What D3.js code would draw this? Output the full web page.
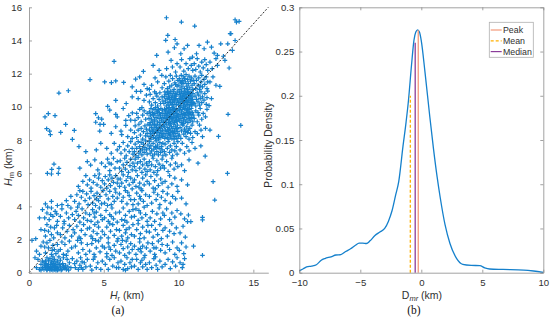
<!DOCTYPE html>
<html>
<head>
<meta charset="utf-8">
<script src="https://cdn.jsdelivr.net/npm/d3@7"></script>
<style>
  body { margin: 0; background: #fff; }
  svg { display: block; font-family: "Liberation Sans", Arial, sans-serif; }
</style>
</head>
<body>
<svg id="chart" width="550" height="322"></svg>
<script>
// ---- data: (a) Hr vs Hm scatter (y in km)
var band0 = [[0.5,0.3],[0.7,0.2],[0.8,0.5],[0.9,0.3],[0.6,0.8],[0.9,0.7],[0.4,0.9],[0.8,0.15],
  [1.0,0.2],[1.1,0.3],[1.2,0.2],[1.3,0.4],[1.4,0.3],[1.5,0.2],[1.6,0.3],[1.7,0.2],[1.8,0.4],[1.9,0.3],[1.05,0.45],[1.15,0.55],[1.25,0.35],[1.35,0.25],[1.45,0.5],[1.55,0.4],[1.65,0.55],[1.75,0.35],[1.85,0.25],[1.95,0.5],[1.1,0.7],[1.3,0.75],[1.5,0.65],[1.7,0.8],[1.9,0.7],[1.2,0.9],[1.6,0.95],[1.4,0.85],[1.0,0.6],[1.8,0.6],[1.2,0.15],[1.4,0.15],[1.6,0.15],[1.8,0.15],[1.3,0.5],[1.5,0.3],[1.7,0.45],[1.1,0.4],[1.9,0.15],[1.6,0.7],
  [2.0,0.2],[2.1,0.35],[2.2,0.2],[2.3,0.4],[2.4,0.25],[2.05,0.5],[2.15,0.15],[2.25,0.55],[2.35,0.3],[2.5,0.2],[2.6,0.35],[2.45,0.45],[2.1,0.75],[2.3,0.9],[2.7,0.6],[2.8,0.3],[2.55,0.8],[2.9,0.85],[2.0,0.95],[2.65,0.15],
  [3.1,0.3],[3.3,0.2],[3.4,0.45],[3.5,0.3],[3.6,0.2],[3.2,0.7],[3.7,0.6],[3.8,0.35],[3.45,0.9],[3.9,0.8],[3.05,0.55],[3.55,0.65],
  [4.1,0.4],[4.3,0.8],[4.5,0.3],[4.6,0.6],[4.8,0.2],[4.4,0.95],[4.9,0.7],[4.2,0.15],
  [5.1,0.5],[5.3,0.2],[5.4,0.8],[5.6,0.4],[5.7,0.9],[5.85,0.3],[5.2,0.95],[5.95,0.6],
  [6.0,0.3],[6.15,0.7],[6.3,0.2],[6.4,0.5],[6.55,0.9],[6.6,0.25],[6.75,0.6],[6.85,0.35],[6.9,0.8],[6.45,0.15],
  [7.05,0.4],[7.2,0.8],[7.3,0.2],[7.45,0.6],[7.6,0.35],[7.7,0.9],[7.8,0.5],[7.9,0.2],[7.55,0.75],
  [8.05,0.6],[8.2,0.3],[8.35,0.85],[8.5,0.45],[8.6,0.2],[8.75,0.7],[8.9,0.35],[8.45,0.95],
  [9.1,0.5],[9.3,0.8],[9.45,0.25],[9.6,0.65],[9.8,0.4],[9.9,0.9],
  [10.1,0.6],[10.25,0.3],[10.4,0.85],[10.3,0.5]];

var band1 = [[0.5,1.3],[0.8,1.6],[0.7,1.1],[0.95,1.85],
  [1.1,1.2],[1.3,1.5],[1.5,1.1],[1.7,1.4],[1.9,1.7],[1.2,1.8],[1.4,1.95],[1.6,1.65],[1.8,1.15],[1.05,1.55],[1.55,1.35],[1.95,1.3],
  [2.1,1.4],[2.3,1.1],[2.4,1.7],[2.6,1.3],[2.7,1.9],[2.85,1.5],[2.2,1.85],[2.5,1.05],
  [3.1,1.6],[3.3,1.2],[3.5,1.8],[3.6,1.4],[3.8,1.1],[3.9,1.7],[3.25,1.95],
  [4.05,1.3],[4.2,1.75],[4.35,1.1],[4.5,1.5],[4.65,1.9],[4.75,1.25],[4.9,1.6],[4.45,1.95],
  [5.05,1.5],[5.2,1.15],[5.3,1.8],[5.45,1.4],[5.55,1.05],[5.7,1.65],[5.8,1.3],[5.9,1.9],[5.35,1.55],
  [6.05,1.2],[6.15,1.7],[6.3,1.45],[6.4,1.05],[6.5,1.9],[6.6,1.55],[6.7,1.2],[6.8,1.75],[6.9,1.4],[6.25,1.95],
  [7.05,1.6],[7.15,1.1],[7.3,1.4],[7.4,1.85],[7.5,1.25],[7.6,1.6],[7.75,1.05],[7.85,1.5],[7.95,1.8],[7.45,1.45],
  [8.1,1.3],[8.25,1.75],[8.4,1.1],[8.5,1.5],[8.65,1.9],[8.8,1.35],[8.9,1.7],[8.35,1.5],
  [9.1,1.2],[9.25,1.65],[9.4,1.4],[9.6,1.85],[9.75,1.1],[9.9,1.5],
  [10.05,1.35],[10.2,1.8],[10.35,1.15],[10.5,1.55],[11.0,1.6],[11.6,1.05]];

var band2 = [[0.2,1.95],[0.45,2.05],[0.8,2.6],
  [1.1,2.2],[1.3,2.5],[1.5,2.3],[1.7,2.7],[1.9,2.4],[1.2,2.9],[1.45,2.75],[1.65,2.1],[1.85,2.85],[1.05,2.55],
  [2.1,2.3],[2.25,2.7],[2.4,2.1],[2.55,2.5],[2.7,2.85],[2.85,2.2],[2.35,2.95],[2.95,2.6],
  [3.05,2.4],[3.2,2.8],[3.35,2.15],[3.5,2.55],[3.65,2.9],[3.75,2.3],[3.9,2.65],[3.45,2.05],
  [4.05,2.7],[4.15,2.2],[4.3,2.5],[4.4,2.9],[4.55,2.35],[4.65,2.75],[4.8,2.1],[4.9,2.5],[4.25,2.05],
  [5.05,2.3],[5.2,2.75],[5.3,2.1],[5.45,2.5],[5.6,2.9],[5.7,2.25],[5.85,2.6],[5.95,2.05],[5.4,2.95],
  [6.05,2.55],[6.2,2.2],[6.3,2.85],[6.45,2.4],[6.6,2.1],[6.7,2.7],[6.85,2.3],[6.95,2.9],[6.5,2.6],
  [7.05,2.2],[7.2,2.6],[7.3,2.95],[7.45,2.35],[7.6,2.75],[7.7,2.1],[7.85,2.5],[7.95,2.85],[7.4,2.05],
  [8.05,2.45],[8.2,2.85],[8.3,2.15],[8.45,2.6],[8.6,2.3],[8.75,2.9],[8.85,2.05],[8.95,2.55],
  [9.1,2.7],[9.25,2.2],[9.4,2.5],[9.55,2.95],[9.7,2.35],[9.85,2.7],
  [10.1,2.4],[10.3,2.8],[10.45,2.15]];

var band3 = [[0.7,3.3],[0.9,3.8],
  [1.05,3.3],[1.2,3.6],[1.35,3.2],[1.5,3.9],[1.6,3.4],[1.75,3.7],[1.9,3.1],[1.25,3.95],[1.45,3.5],[1.85,3.55],
  [2.1,3.4],[2.2,3.85],[2.35,3.1],[2.5,3.6],[2.65,3.3],[2.8,3.9],[2.9,3.5],
  [3.05,3.2],[3.15,3.7],[3.3,3.45],[3.4,3.05],[3.55,3.85],[3.65,3.3],[3.8,3.6],[3.9,3.15],[3.25,3.95],
  [4.05,3.5],[4.15,3.1],[4.25,3.8],[4.4,3.35],[4.5,3.65],[4.6,3.05],[4.7,3.9],[4.8,3.45],[4.9,3.2],[4.35,3.6],
  [5.05,3.3],[5.15,3.75],[5.3,3.1],[5.4,3.5],[5.55,3.9],[5.65,3.25],[5.8,3.6],[5.9,3.05],[5.5,3.4],
  [6.05,3.65],[6.2,3.2],[6.3,3.9],[6.45,3.45],[6.55,3.05],[6.7,3.7],[6.85,3.35],[6.95,3.8],[6.4,3.15],
  [7.05,3.4],[7.15,3.85],[7.3,3.15],[7.45,3.6],[7.55,3.3],[7.7,3.95],[7.8,3.5],[7.9,3.1],[7.35,3.75],
  [8.1,3.3],[8.25,3.7],[8.4,3.1],[8.55,3.55],[8.7,3.9],[8.8,3.25],[8.95,3.6],
  [9.05,3.45],[9.2,3.85],[9.4,3.2],[9.55,3.6],[9.75,3.35],[9.9,3.75],
  [10.15,3.55],[10.4,3.25],[10.66,3.48],[10.6,3.08],[10.82,3.08],[11.6,3.34],[11.6,3.18]];

var band4 = [[1.1,4.15],[1.5,4.3],[1.9,4.05],
  [2.2,4.1],[2.5,4.35],[2.8,4.6],[2.6,4.05],
  [3.05,4.3],[3.2,4.7],[3.35,4.15],[3.5,4.55],[3.6,4.9],[3.75,4.35],[3.85,4.75],[3.95,4.1],[3.4,4.95],
  [4.05,4.5],[4.15,4.9],[4.25,4.2],[4.35,4.65],[4.45,4.05],[4.55,4.8],[4.65,4.35],[4.75,4.6],[4.85,4.15],[4.95,4.95],[4.5,4.45],
  [5.05,4.2],[5.15,4.7],[5.3,4.45],[5.4,4.9],[5.5,4.1],[5.6,4.6],[5.7,4.3],[5.8,4.85],[5.9,4.5],[5.25,4.05],
  [6.05,4.75],[6.2,4.3],[6.3,4.55],[6.45,4.95],[6.55,4.15],[6.7,4.65],[6.8,4.4],[6.95,4.1],[6.6,4.85],
  [7.05,4.4],[7.2,4.8],[7.3,4.15],[7.4,4.6],[7.55,4.95],[7.65,4.3],[7.8,4.7],[7.9,4.05],[7.45,4.45],
  [8.05,4.6],[8.2,4.2],[8.35,4.85],[8.5,4.4],[8.6,4.7],[8.75,4.1],[8.85,4.55],[8.95,4.9],
  [9.1,4.35],[9.25,4.75],[9.45,4.2],[9.6,4.6],[9.8,4.45],[9.95,4.9],
  [10.2,4.5],[10.5,4.15],[12.42,4.38]];

var band5 = [[1.23,5.99],[1.5,5.95],[1.96,5.99],
  [3.3,5.2],[3.6,5.5],[3.8,5.85],[3.9,5.3],
  [4.05,5.6],[4.15,5.1],[4.3,5.45],[4.4,5.85],[4.55,5.3],[4.65,5.7],[4.8,5.15],[4.9,5.55],[4.7,5.95],
  [5.05,5.35],[5.1,5.8],[5.2,5.1],[5.3,5.6],[5.4,5.9],[5.45,5.25],[5.55,5.7],[5.65,5.45],[5.75,5.05],[5.8,5.85],[5.9,5.4],[5.95,5.65],
  [6.05,5.2],[6.1,5.65],[6.2,5.4],[6.3,5.9],[6.4,5.15],[6.5,5.55],[6.6,5.8],[6.7,5.3],[6.8,5.7],[6.9,5.05],[6.95,5.45],
  [7.05,5.6],[7.15,5.2],[7.25,5.85],[7.4,5.4],[7.5,5.05],[7.6,5.7],[7.7,5.3],[7.8,5.9],[7.9,5.5],[7.35,5.15],
  [8.05,5.35],[8.15,5.8],[8.3,5.1],[8.4,5.55],[8.55,5.9],[8.65,5.25],[8.8,5.65],[8.9,5.4],[8.45,5.05],
  [9.1,5.5],[9.3,5.15],[9.4,5.85],[9.55,5.35],[9.75,5.7],[9.9,5.2],
  [10.2,5.6],[10.6,5.3],[12.31,5.49],[13.27,5.99]];

var band6 = [[1.67,6.55],[1.52,6.23],[2.0,6.29],[3.4,6.3],[3.9,6.7],
  [4.12,6.49],[4.4,6.8],[4.6,6.2],[4.85,6.6],
  [5.1,6.4],[5.25,6.85],[5.4,6.15],[5.5,6.55],[5.65,6.9],[5.75,6.3],[5.9,6.7],[5.35,6.6],
  [6.05,6.3],[6.1,6.75],[6.2,6.1],[6.3,6.5],[6.4,6.9],[6.45,6.25],[6.55,6.65],[6.65,6.05],[6.75,6.45],[6.8,6.85],[6.9,6.2],[6.95,6.6],
  [7.05,6.4],[7.1,6.85],[7.15,6.15],[7.25,6.6],[7.3,6.95],[7.4,6.3],[7.45,6.7],[7.55,6.05],[7.6,6.5],[7.7,6.85],[7.75,6.25],[7.85,6.6],[7.9,6.1],[7.95,6.45],
  [8.05,6.7],[8.1,6.2],[8.2,6.5],[8.3,6.9],[8.35,6.05],[8.45,6.4],[8.55,6.75],[8.6,6.15],[8.7,6.55],[8.8,6.3],[8.9,6.85],[8.95,6.45],
  [9.05,6.3],[9.2,6.7],[9.3,6.1],[9.45,6.5],[9.55,6.9],[9.7,6.25],[9.8,6.6],[9.95,6.4],
  [10.2,6.5],[10.4,6.15],[10.7,6.8],[11.3,6.6]];

var band7 = [[3.34,7.6],[3.8,7.3],[4.5,7.4],[4.8,7.8],
  [5.2,7.5],[5.5,7.2],[5.7,7.8],[5.9,7.4],
  [6.05,7.6],[6.15,7.2],[6.3,7.85],[6.4,7.4],[6.5,7.05],[6.6,7.65],[6.7,7.3],[6.8,7.9],[6.9,7.5],[6.95,7.15],
  [7.05,7.3],[7.1,7.75],[7.15,7.05],[7.2,7.5],[7.3,7.9],[7.35,7.2],[7.4,7.6],[7.45,7.35],[7.5,7.85],[7.55,7.1],[7.6,7.45],[7.65,7.75],[7.7,7.25],[7.75,7.55],[7.8,7.95],[7.85,7.4],[7.9,7.15],[7.95,7.7],
  [8.05,7.5],[8.05,7.9],[8.1,7.2],[8.15,7.65],[8.2,7.35],[8.25,7.05],[8.3,7.8],[8.35,7.45],[8.4,7.15],[8.45,7.6],[8.5,7.95],[8.55,7.3],[8.6,7.7],[8.65,7.1],[8.7,7.5],[8.75,7.85],[8.8,7.25],[8.85,7.6],[8.9,7.4],[8.95,7.05],[8.95,7.8],[8.5,7.55],
  [9.05,7.3],[9.1,7.75],[9.15,7.1],[9.25,7.5],[9.3,7.9],[9.4,7.25],[9.45,7.65],[9.55,7.4],[9.6,7.05],[9.7,7.8],[9.75,7.35],[9.85,7.6],[9.9,7.15],[9.95,7.9],
  [10.1,7.4],[10.25,7.8],[10.4,7.2],[10.55,7.6],[10.7,7.35],[10.9,7.85],
  [11.1,7.5],[11.49,7.64],[11.78,7.03]];

var band8 = [[1.18,8.68],[1.38,8.54],[1.43,8.32],[2.12,8.46],[2.9,8.04],[2.45,8.94],[3.03,8.58],
  [4.73,8.54],[4.75,8.94],[4.99,8.94],[5.5,8.4],[5.8,8.8],
  [6.2,8.32],[6.15,8.54],[6.47,8.88],[6.6,8.2],[6.8,8.6],[6.9,8.1],
  [7.05,8.45],[7.1,8.85],[7.2,8.15],[7.3,8.6],[7.35,8.95],[7.45,8.3],[7.5,8.7],[7.6,8.05],[7.65,8.5],[7.75,8.85],[7.8,8.25],[7.85,8.65],[7.9,8.4],[7.95,8.95],
  [8.02,8.2],[8.05,8.6],[8.08,8.9],[8.12,8.4],[8.15,8.05],[8.18,8.75],[8.22,8.3],[8.25,8.55],[8.28,8.95],[8.32,8.15],[8.35,8.65],[8.38,8.4],[8.42,8.85],[8.45,8.1],[8.48,8.5],[8.52,8.75],[8.55,8.25],[8.58,8.95],[8.62,8.45],[8.65,8.05],[8.68,8.7],[8.72,8.3],[8.75,8.9],[8.78,8.55],[8.82,8.15],[8.85,8.8],[8.88,8.4],[8.92,8.6],[8.95,8.2],[8.98,8.85],[8.3,8.5],[8.6,8.6],[8.9,8.3],[8.4,8.95],[8.7,8.15],
  [9.02,8.4],[9.05,8.8],[9.08,8.1],[9.12,8.6],[9.15,8.3],[9.18,8.95],[9.22,8.5],[9.25,8.15],[9.28,8.75],[9.32,8.4],[9.35,8.05],[9.38,8.65],[9.42,8.9],[9.45,8.25],[9.48,8.55],[9.52,8.8],[9.55,8.1],[9.58,8.45],[9.62,8.7],[9.65,8.3],[9.68,8.95],[9.72,8.55],[9.75,8.2],[9.78,8.8],[9.82,8.4],[9.85,8.65],[9.88,8.1],[9.92,8.9],[9.95,8.5],[9.98,8.25],[9.3,8.6],[9.6,8.5],[9.9,8.7],[9.4,8.35],[9.7,8.05],
  [10.05,8.3],[10.1,8.75],[10.15,8.1],[10.2,8.55],[10.3,8.9],[10.35,8.35],[10.4,8.65],[10.5,8.2],[10.55,8.8],[10.6,8.45],[10.7,8.05],[10.75,8.7],[10.8,8.4],[10.9,8.9],[10.95,8.15],[10.45,8.5],[10.25,8.95],[10.65,8.6],
  [11.1,8.5],[11.26,8.38],[11.4,8.9],[11.6,8.2],[11.8,8.7],[11.5,8.6],[12.1,8.6],[12.67,8.22],[14.16,8.88]];

var band9 = [[1.07,9.39],[1.29,9.59],[1.74,9.47],[4.64,9.34],[4.46,9.59],[4.86,9.26],[4.46,9.07],
  [5.8,9.55],[5.9,9.4],[5.4,9.8],[6.67,9.47],[6.47,9.18],[6.91,9.63],[6.3,9.9],[6.8,9.2],
  [7.09,9.18],[7.2,9.6],[7.3,9.35],[7.4,9.85],[7.5,9.1],[7.6,9.5],[7.7,9.75],[7.8,9.25],[7.9,9.6],[7.55,9.95],
  [8.02,9.3],[8.05,9.7],[8.1,9.05],[8.12,9.5],[8.15,9.9],[8.2,9.25],[8.25,9.65],[8.28,9.1],[8.32,9.45],[8.35,9.85],[8.4,9.2],[8.42,9.6],[8.45,9.95],[8.5,9.35],[8.55,9.75],[8.58,9.1],[8.62,9.5],[8.65,9.85],[8.7,9.3],[8.72,9.65],[8.75,9.05],[8.8,9.45],[8.82,9.9],[8.85,9.2],[8.9,9.6],[8.92,9.8],[8.95,9.35],[8.98,9.05],[8.6,9.7],[8.3,9.55],
  [9.02,9.1],[9.04,9.5],[9.06,9.85],[9.1,9.3],[9.12,9.7],[9.15,9.05],[9.18,9.45],[9.2,9.9],[9.22,9.2],[9.25,9.6],[9.28,9.35],[9.3,9.8],[9.33,9.05],[9.36,9.5],[9.38,9.95],[9.4,9.25],[9.43,9.65],[9.46,9.4],[9.48,9.85],[9.5,9.1],[9.53,9.55],[9.56,9.75],[9.58,9.3],[9.6,9.95],[9.63,9.15],[9.66,9.6],[9.68,9.4],[9.7,9.8],[9.73,9.05],[9.76,9.5],[9.78,9.25],[9.8,9.7],[9.83,9.9],[9.86,9.35],[9.88,9.6],[9.9,9.1],[9.93,9.45],[9.96,9.8],[9.98,9.25],[9.45,9.0],[9.15,9.6],[9.65,9.85],[9.85,9.15],[9.35,9.7],[9.55,9.35],
  [10.02,9.4],[10.05,9.8],[10.08,9.15],[10.1,9.55],[10.13,9.95],[10.16,9.3],[10.2,9.7],[10.22,9.05],[10.25,9.45],[10.28,9.85],[10.32,9.2],[10.35,9.6],[10.38,9.35],[10.42,9.9],[10.45,9.1],[10.48,9.5],[10.52,9.75],[10.55,9.25],[10.58,9.65],[10.62,9.05],[10.65,9.45],[10.68,9.85],[10.72,9.3],[10.75,9.7],[10.78,9.15],[10.82,9.55],[10.85,9.9],[10.88,9.35],[10.92,9.65],[10.95,9.1],[10.98,9.5],[10.4,9.55],[10.6,9.85],[10.3,9.0],[10.7,9.6],
  [11.05,9.3],[11.15,9.75],[11.25,9.1],[11.35,9.5],[11.45,9.9],[11.55,9.25],[11.65,9.6],[11.8,9.4],[11.9,9.85],[11.3,9.65],[13.31,9.55]];

var band10 = [[2.0,10.83],[2.63,10.97],[5.26,10.03],[5.8,10.39],[6.5,10.2],[6.9,10.6],
  [7.18,10.93],[7.47,10.93],[7.69,10.39],[7.3,10.5],[7.85,10.7],
  [8.05,10.3],[8.1,10.75],[8.2,10.1],[8.3,10.5],[8.4,10.9],[8.45,10.25],[8.55,10.65],[8.6,10.05],[8.7,10.45],[8.75,10.85],[8.8,10.2],[8.9,10.6],[8.95,10.35],[8.5,10.8],
  [9.02,10.2],[9.05,10.6],[9.08,10.9],[9.12,10.35],[9.15,10.75],[9.18,10.05],[9.22,10.5],[9.25,10.85],[9.28,10.25],[9.32,10.65],[9.35,10.1],[9.38,10.45],[9.42,10.8],[9.45,10.3],[9.48,10.95],[9.52,10.55],[9.55,10.15],[9.58,10.7],[9.62,10.4],[9.65,10.9],[9.68,10.05],[9.72,10.6],[9.75,10.3],[9.78,10.8],[9.82,10.5],[9.85,10.15],[9.88,10.75],[9.92,10.4],[9.95,10.95],[9.98,10.25],[9.4,10.55],[9.6,10.25],[9.8,10.65],[9.3,10.9],[9.7,10.45],
  [10.02,10.1],[10.04,10.5],[10.06,10.85],[10.1,10.3],[10.12,10.7],[10.15,10.05],[10.18,10.45],[10.2,10.9],[10.23,10.2],[10.26,10.6],[10.28,10.35],[10.3,10.8],[10.33,10.05],[10.36,10.5],[10.38,10.95],[10.4,10.25],[10.43,10.65],[10.46,10.4],[10.48,10.85],[10.5,10.1],[10.53,10.55],[10.56,10.75],[10.58,10.3],[10.6,10.95],[10.63,10.15],[10.66,10.6],[10.68,10.4],[10.7,10.8],[10.73,10.05],[10.76,10.5],[10.78,10.25],[10.8,10.7],[10.83,10.9],[10.86,10.35],[10.88,10.6],[10.9,10.1],[10.93,10.45],[10.96,10.8],[10.98,10.25],[10.45,10.0],[10.15,10.6],[10.65,10.85],[10.85,10.15],[10.35,10.7],[10.55,10.35],
  [11.05,10.2],[11.1,10.65],[11.15,10.05],[11.2,10.45],[11.25,10.85],[11.3,10.3],[11.35,10.7],[11.4,10.1],[11.45,10.5],[11.5,10.9],[11.55,10.25],[11.6,10.6],[11.7,10.4],[11.75,10.8],[11.85,10.15],[11.9,10.55],[11.95,10.95],[12.04,10.07],[12.2,10.5]];

var band11 = [[4.08,11.64],[5.06,11.5],[5.51,11.46],[5.8,11.56],[6.33,11.47],[6.9,11.2],
  [7.13,11.67],[7.69,11.35],[7.4,11.8],[7.9,11.1],
  [8.43,11.74],[8.88,11.9],[8.2,11.3],[8.6,11.5],[8.9,11.15],[8.05,11.05],
  [9.05,11.4],[9.15,11.8],[9.25,11.1],[9.35,11.55],[9.45,11.9],[9.55,11.3],[9.6,11.7],[9.7,11.05],[9.75,11.45],[9.85,11.85],[9.9,11.25],[9.95,11.6],[9.4,11.2],[9.8,11.35],
  [10.02,11.3],[10.05,11.7],[10.1,11.05],[10.12,11.5],[10.18,11.9],[10.22,11.2],[10.25,11.6],[10.3,11.4],[10.35,11.8],[10.4,11.1],[10.45,11.5],[10.5,11.95],[10.55,11.25],[10.6,11.65],[10.65,11.4],[10.7,11.85],[10.75,11.15],[10.8,11.55],[10.85,11.75],[10.9,11.3],[10.95,11.05],[10.98,11.6],[10.4,11.7],[10.6,11.05],[10.2,11.45],
  [11.05,11.4],[11.1,11.85],[11.15,11.1],[11.2,11.6],[11.3,11.3],[11.35,11.75],[11.4,11.05],[11.5,11.5],[11.55,11.9],[11.6,11.2],[11.7,11.65],[11.75,11.35],[11.85,11.8],[11.9,11.1],[11.95,11.5],[11.45,11.25],
  [12.1,11.5],[12.3,11.8],[12.5,11.3],[12.76,11.23]];

var bandTop = [[5.69,12.74],[7.65,12.14],[8.3,12.5],[8.7,12.2],
  [9.2,12.3],[9.59,12.4],[9.5,12.8],[9.8,12.1],[9.9,12.6],
  [10.1,12.4],[10.2,12.85],[10.35,12.15],[10.5,12.6],[10.65,12.3],[10.75,12.9],[10.85,12.5],[10.95,12.2],
  [11.05,12.6],[11.15,12.25],[11.25,12.9],[11.35,12.45],[11.45,12.1],[11.55,12.7],[11.65,12.35],[11.75,12.85],[11.85,12.55],[11.95,12.2],
  [12.1,12.7],[12.25,12.3],[12.5,12.9],[12.6,12.5],[13.38,12.34],[13.1,12.8],
  [8.54,13.1],[9.72,13.56],[9.3,13.3],[9.9,13.8],[10.15,13.2],[10.37,13.5],[10.93,13.0],[10.6,13.7],
  [11.37,13.7],[11.71,13.5],[11.93,13.9],[11.2,13.2],[12.38,13.24],[12.82,13.8],[12.2,13.6],[12.6,13.1],
  [13.29,13.8],[13.6,13.4],[13.0,13.05],
  [9.14,14.01],[9.28,14.31],[9.77,14.06],[11.08,14.87],[13.45,14.41],[13.5,14.41],[13.78,14.0],
  [9.19,15.37],[10.19,15.11],[13.78,15.25],[13.87,15.1],[14.05,15.15]];

// ---- data: (b) probability density of Dmr
var dmrX = [-10,-9.67,-9.4,-9.0,-8.6,-8.2,-7.9,-7.4,-7.0,-6.6,-6.2,-5.8,-5.4,-5.1,-4.8,-4.5,-4.2,-3.8,-3.4,-3.0,-2.7,-2.4,-2.1,-1.85,-1.5,-1.25,-1.05,-0.8,-0.6,-0.45,-0.3,-0.15,0.0,0.3,0.7,1.0,1.3,1.55,1.95,2.35,2.9,3.4,4.1,4.8,5.2,5.6,6.7,8.4,9.2,10];
var dmrPdf = [0.002,0.0045,0.0065,0.0075,0.009,0.014,0.016,0.018,0.02,0.0205,0.024,0.027,0.031,0.0335,0.0335,0.033,0.036,0.042,0.046,0.05,0.058,0.07,0.088,0.103,0.143,0.17,0.195,0.235,0.263,0.272,0.2745,0.272,0.262,0.227,0.176,0.14,0.108,0.085,0.054,0.033,0.016,0.0095,0.0083,0.008,0.0055,0.0042,0.0037,0.003,0.0019,0.0003];

var statNames = ["Peak", "Mean", "Median"];
var statX = [-0.25, -0.9, -0.5];
var statTop = [0.274, 0.2, 0.26];

var ticksA_x = [0, 5, 10, 15];
var ticksA_y = [0, 2, 4, 6, 8, 10, 12, 14, 16];
var ticksB_x = [-10, -5, 0, 5, 10];
var ticksB_y = [0, 0.05, 0.1, 0.15, 0.2, 0.25, 0.3];

// ---- styles
var blue = "#1580cc";
var statColor = ["#f4997a", "#ffb000", "#8b3d9a"];
var statDash = [null, "3,2", null];
var axisGray = "#8a8a8a";
var textCol = "#303030";

var svg = d3.select("#chart");

var xa = d3.scaleLinear().domain([0, 16]).range([29, 268.3]);
var ya = d3.scaleLinear().domain([0, 16]).range([272.7, 7.3]);
var xb = d3.scaleLinear().domain([-10, 10]).range([299.3, 543.3]);
var yb = d3.scaleLinear().domain([0, 0.3]).range([272.7, 7.3]);

function styleAxis(g) {
  g.select(".domain").attr("stroke", axisGray).attr("stroke-width", 0.8);
  g.selectAll(".tick line").attr("stroke", axisGray).attr("stroke-width", 0.8);
  g.selectAll(".tick text").attr("fill", textCol).attr("font-size", 9.6);
  g.attr("font-family", null);
}

// ===== panel (a)
var pts = [].concat(band0, band1, band2, band3, band4, band5, band6, band7, band8, band9, band10, band11, bandTop);

svg.append("g")
  .selectAll("path")
  .data(pts)
  .enter().append("path")
  .attr("transform", function(d) { return "translate(" + xa(d[0]) + "," + ya(d[1]) + ")"; })
  .attr("d", "M-2.3,0H2.3M0,-2.3V2.3")
  .attr("stroke", blue)
  .attr("stroke-width", 1.2)
  .attr("fill", "none");

svg.append("line")
  .attr("x1", xa(0)).attr("y1", ya(0))
  .attr("x2", xa(16)).attr("y2", ya(16))
  .attr("stroke", "#111").attr("stroke-width", 0.9)
  .attr("stroke-dasharray", "2,1.6");

svg.append("g")
  .attr("transform", "translate(0," + ya(0) + ")")
  .call(d3.axisBottom(xa).tickValues(ticksA_x).tickSizeInner(-3).tickSizeOuter(0).tickPadding(6))
  .call(styleAxis);

svg.append("g")
  .attr("transform", "translate(" + xa(0) + ",0)")
  .call(d3.axisLeft(ya).tickValues(ticksA_y).tickSizeInner(-3).tickSizeOuter(0).tickPadding(7))
  .call(styleAxis);

var ylabA = svg.append("text")
  .attr("transform", "translate(12,167) rotate(-90)")
  .attr("text-anchor", "middle")
  .attr("font-size", 10.5).attr("fill", textCol);
ylabA.append("tspan").attr("font-style", "italic").text("H");
ylabA.append("tspan").attr("font-size", 7.5).attr("dy", 1.5).text("m");
ylabA.append("tspan").attr("dy", -1.5).text(" (km)");

var xlabA = svg.append("text")
  .attr("x", 127).attr("y", 299)
  .attr("text-anchor", "middle")
  .attr("font-size", 10.5).attr("fill", textCol);
xlabA.append("tspan").attr("font-style", "italic").text("H");
xlabA.append("tspan").attr("font-size", 7.5).attr("dy", 1.5).text("r");
xlabA.append("tspan").attr("dy", -1.5).text(" (km)");

svg.append("text")
  .attr("x", 118).attr("y", 314)
  .attr("text-anchor", "middle")
  .attr("font-family", "'Liberation Serif', 'DejaVu Serif', serif")
  .attr("font-size", 11.5).attr("fill", "#111")
  .text("(a)");

// ===== panel (b)
var line = d3.line()
  .x(function(d, i) { return xb(dmrX[i]); })
  .y(function(d) { return yb(d); })
  .curve(d3.curveMonotoneX);

svg.append("path")
  .attr("d", line(dmrPdf))
  .attr("fill", "none")
  .attr("stroke", blue)
  .attr("stroke-width", 1.3);

svg.append("g")
  .selectAll("line")
  .data(statNames)
  .enter().append("line")
  .attr("x1", function(d, i) { return xb(statX[i]); })
  .attr("x2", function(d, i) { return xb(statX[i]); })
  .attr("y1", yb(0))
  .attr("y2", function(d, i) { return yb(statTop[i]); })
  .attr("stroke", function(d, i) { return statColor[i]; })
  .attr("stroke-dasharray", function(d, i) { return statDash[i]; })
  .attr("stroke-width", 1.3);

svg.append("g")
  .attr("transform", "translate(0," + yb(0) + ")")
  .call(d3.axisBottom(xb).tickValues(ticksB_x).tickSizeInner(-3).tickSizeOuter(0).tickPadding(6))
  .call(styleAxis);

svg.append("g")
  .attr("transform", "translate(" + xb(-10) + ",0)")
  .call(d3.axisLeft(yb).tickValues(ticksB_y).tickFormat(d3.format("")).tickSizeInner(-3).tickSizeOuter(0).tickPadding(5))
  .call(styleAxis);

// top and right edges of the box with inward ticks
svg.append("g")
  .attr("transform", "translate(0," + yb(0.3) + ")")
  .call(d3.axisTop(xb).tickValues(ticksB_x).tickSizeInner(-3).tickSizeOuter(0).tickFormat(""))
  .call(styleAxis);

svg.append("g")
  .attr("transform", "translate(" + xb(10) + ",0)")
  .call(d3.axisRight(yb).tickValues(ticksB_y).tickSizeInner(-3).tickSizeOuter(0).tickFormat(""))
  .call(styleAxis);

svg.append("text")
  .attr("transform", "translate(272,145) rotate(-90)")
  .attr("text-anchor", "middle")
  .attr("font-size", 10.3).attr("fill", textCol)
  .text("Probability Density");

var xlabB = svg.append("text")
  .attr("x", 422).attr("y", 299)
  .attr("text-anchor", "middle")
  .attr("font-size", 10.5).attr("fill", textCol);
xlabB.append("tspan").text("D");
xlabB.append("tspan").attr("font-style", "italic").attr("font-size", 7.5).attr("dy", 1.5).text("mr");
xlabB.append("tspan").attr("dy", -1.5).text(" (km)");

svg.append("text")
  .attr("x", 414).attr("y", 314)
  .attr("text-anchor", "middle")
  .attr("font-family", "'Liberation Serif', 'DejaVu Serif', serif")
  .attr("font-size", 11.5).attr("fill", "#111")
  .text("(b)");

// legend
var lg = svg.append("g");
lg.append("rect")
  .attr("x", 489.3).attr("y", 22.3)
  .attr("width", 44).attr("height", 35)
  .attr("fill", "#fff")
  .attr("stroke", "#b0b0b0").attr("stroke-width", 0.8);

var item = lg.selectAll(".item")
  .data(statNames)
  .enter().append("g")
  .attr("transform", function(d, i) { return "translate(0," + (30 + i * 10.8) + ")"; });

item.append("line")
  .attr("x1", 490.7).attr("x2", 501.7)
  .attr("stroke", function(d, i) { return statColor[i]; })
  .attr("stroke-dasharray", function(d, i) { return statDash[i]; })
  .attr("stroke-width", 1.2);

item.append("text")
  .attr("x", 503).attr("dy", "0.35em")
  .attr("font-size", 8.8).attr("fill", textCol)
  .text(function(d) { return d; });
</script>
</body>
</html>
